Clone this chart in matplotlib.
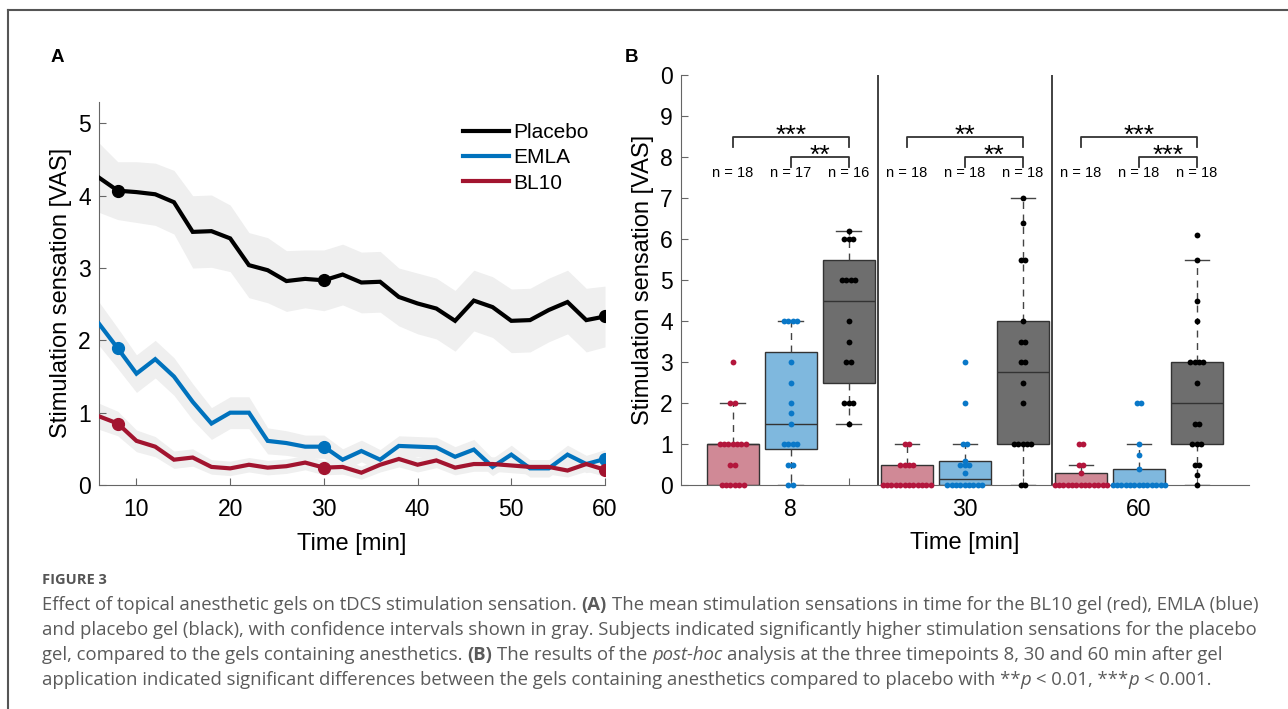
import numpy as np
import matplotlib
matplotlib.use("Agg")
import matplotlib.pyplot as plt
from matplotlib.lines import Line2D

plt.rcParams['font.family'] = ['Liberation Sans', 'DejaVu Sans']

# ===== data: panel A (mean sensation over time) =====
time_min = [6, 8, 10, 12, 14, 16, 18, 20, 22, 24, 26, 28, 30, 32, 34, 36, 38, 40,
            42, 44, 46, 48, 50, 52, 54, 56, 58, 60]
placebo = [4.25, 4.07, 4.05, 4.02, 3.91, 3.50, 3.51, 3.41, 3.04, 2.97, 2.82, 2.85, 2.83, 2.91,
           2.80, 2.81, 2.60, 2.51, 2.44, 2.27, 2.55, 2.46, 2.27, 2.28, 2.42, 2.53, 2.28, 2.33]
emla = [2.23, 1.89, 1.54, 1.74, 1.50, 1.15, 0.85, 1.00, 1.00, 0.61, 0.58, 0.53, 0.53, 0.35,
        0.47, 0.35, 0.54, 0.53, 0.52, 0.39, 0.49, 0.25, 0.42, 0.23, 0.23, 0.42, 0.29, 0.36]
bl10 = [0.95, 0.85, 0.61, 0.53, 0.35, 0.38, 0.25, 0.23, 0.28, 0.24, 0.26, 0.31, 0.24, 0.25,
        0.17, 0.28, 0.36, 0.28, 0.34, 0.24, 0.29, 0.29, 0.27, 0.25, 0.25, 0.20, 0.29, 0.21]
# confidence interval half widths
placebo_ci = [0.48, 0.40, 0.42, 0.43, 0.44, 0.50, 0.50, 0.46, 0.45, 0.45, 0.42, 0.40, 0.42, 0.42,
              0.42, 0.42, 0.40, 0.42, 0.42, 0.42, 0.42, 0.42, 0.44, 0.44, 0.44, 0.44, 0.44, 0.42]
emla_ci = [0.30, 0.28, 0.26, 0.26, 0.26, 0.25, 0.22, 0.22, 0.22, 0.18, 0.17, 0.16, 0.16, 0.15,
           0.15, 0.14, 0.14, 0.14, 0.14, 0.14, 0.14, 0.12, 0.13, 0.12, 0.12, 0.13, 0.12, 0.13]
bl10_ci = [0.18, 0.17, 0.15, 0.14, 0.12, 0.12, 0.10, 0.10, 0.10, 0.10, 0.10, 0.10, 0.10, 0.10,
           0.09, 0.10, 0.11, 0.10, 0.10, 0.10, 0.10, 0.10, 0.10, 0.10, 0.10, 0.09, 0.10, 0.09]
marker_times = [8, 30, 60]

# ===== data: panel B (post-hoc at 8, 30, 60 min) =====
timepoints = ["8", "30", "60"]
gels = ["BL10", "EMLA", "Placebo"]
q1 = [0, 0.88, 2.5, 0, 0, 1, 0, 0, 1]
med = [1, 1.5, 4.5, 0, 0.15, 2.75, 0, 0, 2]
q3 = [1, 3.25, 5.5, 0.5, 0.6, 4, 0.3, 0.4, 3]
whis_lo = [0, 0, 1.5, 0, 0, 0, 0, 0, 0]
whis_hi = [2, 4, 6.2, 1, 1, 7, 0.5, 1, 5.5]
points = [
    [3, 2, 2, 1, 1, 1, 1, 1, 1, 1, 0.5, 0.5, 0, 0, 0, 0, 0, 0],
    [4, 4, 4, 4, 3, 2.5, 2, 1.75, 1.5, 1, 1, 1, 1, 0.5, 0.5, 0, 0],
    [6.2, 6, 6, 6, 5, 5, 5, 5, 4, 3.5, 3, 3, 2, 2, 2, 1.5],
    [1, 1, 0.5, 0.5, 0.5, 0.5, 0, 0, 0, 0, 0, 0, 0, 0, 0, 0, 0, 0],
    [3, 2, 1, 1, 0.6, 0.5, 0.5, 0.5, 0.3, 0, 0, 0, 0, 0, 0, 0, 0, 0],
    [7, 6.4, 5.5, 5.5, 4, 3.5, 3.5, 3, 3, 2.5, 2, 1, 1, 1, 1, 1, 0, 0],
    [1, 1, 0.5, 0.5, 0.3, 0, 0, 0, 0, 0, 0, 0, 0, 0, 0, 0, 0, 0],
    [2, 2, 1, 0.75, 0.4, 0, 0, 0, 0, 0, 0, 0, 0, 0, 0, 0, 0, 0],
    [6.1, 5.5, 4.5, 4, 3, 3, 3, 3, 2.5, 1.5, 1.5, 1, 1, 1, 0.5, 0.5, 0.25, 0],
]
n_labels = ["n = 18", "n = 17", "n = 16", "n = 18", "n = 18", "n = 18", "n = 18", "n = 18", "n = 18"]
stars_all = ["***", "**", "***"]      # placebo vs BL10
stars_emla = ["**", "**", "***"]      # placebo vs EMLA

# ===== colours =====
c_black = "#000000"
c_blue = "#0072BD"
c_red = "#A2142F"
box_fill = ["#d08996", "#7fb8de", "#6e6e6e"]
dot_col = ["#B3163C", "#0A78C8", "#000000"]

fig = plt.figure(figsize=(12.88, 7.09), dpi=100)
W, H = 1288, 709


def fig_rect(l, t, r, b):
    return [l / W, 1 - b / H, (r - l) / W, (b - t) / H]


# ===== panel A =====
axA = fig.add_axes(fig_rect(99, 101.7, 605, 485))
t = np.array(time_min)
series = [(placebo, placebo_ci, c_black, "Placebo"),
          (emla, emla_ci, c_blue, "EMLA"),
          (bl10, bl10_ci, c_red, "BL10")]
for y, ci, col, lab in series:
    y = np.array(y)
    ci = np.array(ci)
    axA.fill_between(t, y - ci, y + ci, color="#efefef", lw=0, zorder=1)
handles = []
for y, ci, col, lab in series:
    y = np.array(y)
    h, = axA.plot(t, y, color=col, lw=3.0, zorder=3, label=lab, solid_joinstyle="miter")
    m = np.isin(t, marker_times)
    axA.plot(t[m], y[m], "o", color=col, ms=8.5, zorder=4)
    handles.append(h)

axA.set_xlim(6, 60)
axA.set_ylim(0, 5.3)
axA.set_xticks([10, 20, 30, 40, 50, 60])
axA.set_yticks([0, 1, 2, 3, 4, 5])
axA.tick_params(direction="in", length=5, width=0.8, color="#666666", labelsize=16.5, pad=6)
axA.tick_params(axis="x", pad=9)
for s in ["top", "right"]:
    axA.spines[s].set_visible(False)
for s in ["left", "bottom"]:
    axA.spines[s].set_color("#666666")
axA.set_xlabel("Time [min]", fontsize=17, labelpad=9)
axA.set_ylabel("Stimulation sensation [VAS]", fontsize=17, labelpad=4)
axA.legend(handles=handles, loc="upper left", bbox_to_anchor=(0.72, 0.944), frameon=False,
           fontsize=15, handlelength=2.2, handletextpad=0.2, labelspacing=0.3,
           borderaxespad=0, borderpad=0)

# ===== panel B =====
axB = fig.add_axes(fig_rect(681, 75, 1249, 485.3))
positions = np.arange(1, len(q1) + 1)
stats = []
for i in range(len(q1)):
    stats.append(dict(q1=q1[i], med=med[i], q3=q3[i], whislo=whis_lo[i], whishi=whis_hi[i],
                      fliers=[]))
bp = axB.bxp(stats, positions=positions, widths=0.9, patch_artist=True, showfliers=False,
             capwidths=0.42,
             boxprops=dict(edgecolor="#333333", linewidth=1.0),
             medianprops=dict(color="#333333", linewidth=1.0),
             whiskerprops=dict(color="#444444", linewidth=1.0, linestyle=(0, (5, 4))),
             capprops=dict(color="#444444", linewidth=1.0))
for i, patch in enumerate(bp["boxes"]):
    patch.set_facecolor(box_fill[i % 3])
    patch.set_zorder(2)

# swarm-like dots
for i, vals in enumerate(points):
    vals = np.array(vals, dtype=float)
    xs = np.zeros_like(vals)
    for v in np.unique(vals):
        idx = np.where(vals == v)[0]
        k = len(idx)
        xs[idx] = (np.arange(k) - (k - 1) / 2) * 0.075
    axB.plot(positions[i] + xs, vals, "o", ms=4.2, color=dot_col[i % 3], mec="none",
             zorder=5, clip_on=False)

# group dividers
for xd in [3.5, 6.5]:
    axB.axvline(xd, color="#333333", lw=1.3, zorder=1)

# n labels and significance brackets
for i in range(len(positions)):
    axB.text(positions[i], 7.6, n_labels[i], ha="center", va="center", fontsize=10.5)
for g in range(3):
    p_r, p_b, p_g = positions[3 * g], positions[3 * g + 1], positions[3 * g + 2]
    for xa, xb, lvl, st in [(p_r, p_g, 8.5, stars_all[g]), (p_b, p_g, 8.0, stars_emla[g])]:
        axB.plot([xa, xa, xb, xb], [lvl - 0.25, lvl, lvl, lvl - 0.25], color="#333333", lw=1.3)
        axB.text((xa + xb) / 2, lvl + 0.02, st, ha="center", va="center", fontsize=19)

axB.set_xlim(0.11, 9.9)
axB.set_ylim(0, 10)
axB.set_xticks(positions)
axB.set_xticklabels(["", timepoints[0], "", "", timepoints[1], "", "", timepoints[2], ""])
axB.set_yticks(range(11))
axB.set_yticklabels(["0", "1", "2", "3", "4", "5", "6", "7", "8", "9", "0"])
axB.tick_params(direction="in", length=5, width=0.8, color="#666666", labelsize=16.5, pad=6)
axB.tick_params(axis="x", pad=9)
for s in ["top", "right"]:
    axB.spines[s].set_visible(False)
for s in ["left", "bottom"]:
    axB.spines[s].set_color("#666666")
axB.set_xlabel("Time [min]", fontsize=17, labelpad=8)
axB.set_ylabel("Stimulation sensation [VAS]", fontsize=17, labelpad=4)

# panel letters
fig.text(57 / W, 1 - 57 / H, "A", fontsize=13.5, fontweight="bold", ha="center", va="center")
fig.text(632 / W, 1 - 57 / H, "B", fontsize=13.5, fontweight="bold", ha="center", va="center")

# page frame
fig.add_artist(Line2D([8 / W, 8 / W], [0, 1 - 10 / H], transform=fig.transFigure,
                      color="#555555", lw=1.5))
fig.add_artist(Line2D([8 / W, 1], [1 - 10 / H, 1 - 10 / H], transform=fig.transFigure,
                      color="#555555", lw=1.5))

# ===== caption =====
cap_font = "Open Sans"
cap_size = 13.3
cap_color = "#5a5a5a"
fig.text(42 / W, 1 - 580 / H, "FIGURE 3", fontsize=10.5, fontweight="bold", color="#555555",
         family=cap_font, va="center")

renderer = fig.canvas.get_renderer()


def text_w(s, **kw):
    tt = fig.text(0, 0, s, fontsize=cap_size, family=cap_font, **kw)
    w = tt.get_window_extent(renderer).width
    tt.remove()
    return w


space_w = text_w("a a") - text_w("aa")

caption_lines = [
    [("Effect of topical anesthetic gels on tDCS stimulation sensation.", "n"), (" (A)", "b"),
     (" The mean stimulation sensations in time for the BL10 gel (red), EMLA (blue)", "n")],
    [("and placebo gel (black), with confidence intervals shown in gray. Subjects indicated "
      "significantly higher stimulation sensations for the placebo", "n")],
    [("gel, compared to the gels containing anesthetics.", "n"), (" (B)", "b"),
     (" The results of the", "n"), (" post-hoc", "i"),
     (" analysis at the three timepoints 8, 30 and 60 min after gel", "n")],
    [("application indicated significant differences between the gels containing anesthetics "
      "compared to placebo with **", "n"), ("p", "i"), (" < 0.01, ***", "n"), ("p", "i"),
     (" < 0.001.", "n")],
]
for li, runs in enumerate(caption_lines):
    x = 42.0
    y = 605 + 25 * li
    for s, style in runs:
        if s.startswith(" "):
            x += space_w
            s = s[1:]
        kw = {}
        if style == "b":
            kw["fontweight"] = "bold"
        if style == "i":
            kw["fontstyle"] = "italic"
        tt = fig.text(x / W, 1 - y / H, s, fontsize=cap_size, family=cap_font, color=cap_color,
                      va="center", **kw)
        x += tt.get_window_extent(renderer).width

fig.savefig("out.png", dpi=100)
